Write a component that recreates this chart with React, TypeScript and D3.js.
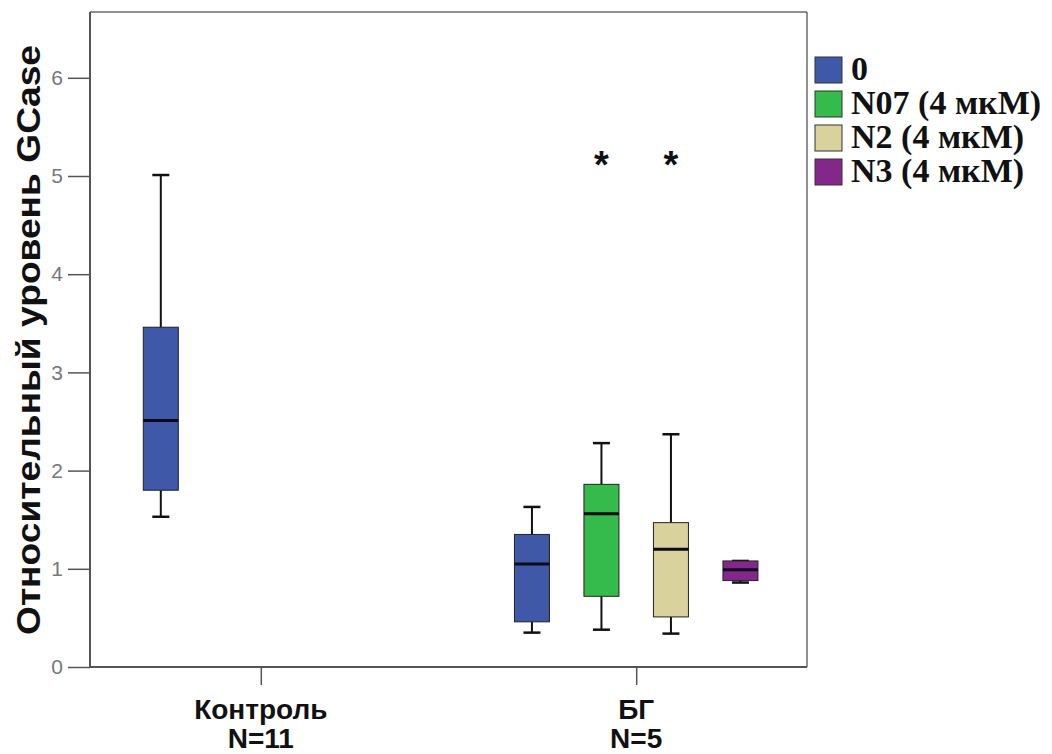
import React, { useRef, useEffect } from "react";
import * as d3 from "d3";

const groups = ["Контроль", "БГ"];
const groupN = ["N=11", "N=5"];
const series = ["0", "N07 (4 мкМ)", "N2 (4 мкМ)", "N3 (4 мкМ)"];
const seriesColors = ["#3f58a8", "#35bb4c", "#d9d29d", "#84278b"];

// one entry per drawn box
const boxGroup = ["Контроль", "БГ", "БГ", "БГ", "БГ"];
const boxSeries = ["0", "0", "N07 (4 мкМ)", "N2 (4 мкМ)", "N3 (4 мкМ)"];
const whiskerLow = [1.53, 0.35, 0.38, 0.34, 0.86];
const q1 = [1.8, 0.46, 0.72, 0.51, 0.88];
const median = [2.51, 1.05, 1.56, 1.2, 0.99];
const q3 = [3.46, 1.35, 1.86, 1.47, 1.08];
const whiskerHigh = [5.01, 1.63, 2.28, 2.37, 1.08];

const starSeries = ["N07 (4 мкМ)", "N2 (4 мкМ)"];
const starValue = [5.17, 5.17];

const yTicks = [0, 1, 2, 3, 4, 5, 6];

const App = () => {
  const ref = useRef<SVGSVGElement>(null);

  useEffect(() => {
    const svg = d3.select(ref.current);
    svg.selectAll("*").remove();

    const left = 90, right = 807, top = 12, bottom = 667;

    const y = d3.scaleLinear().domain([0, 6.67]).range([bottom, top]);
    const x = d3.scalePoint().domain(groups).range([left, right]).padding(0.455);
    const slot = 69.5;
    const boxW = 35;
    // the control group only holds series "0", sitting a bit closer to its tick
    const seriesOffset = (g: string, s: string) =>
      g === "Контроль" ? -100 : (series.indexOf(s) - 1.5) * slot;

    // frame
    svg.append("line").attr("x1", left).attr("x2", right).attr("y1", top).attr("y2", top)
      .attr("stroke", "#222").attr("stroke-width", 1);
    svg.append("line").attr("x1", right).attr("x2", right).attr("y1", top).attr("y2", bottom)
      .attr("stroke", "#222").attr("stroke-width", 1);

    // y axis
    const ya = svg.append("g").attr("transform", `translate(${left},0)`)
      .call(d3.axisLeft(y).tickValues(yTicks).tickSize(22).tickPadding(5).tickFormat(d3.format("d")));
    ya.select(".domain").attr("stroke", "#555").attr("stroke-width", 2)
      .attr("d", `M0,${top}V${bottom}`);
    ya.selectAll(".tick line").attr("stroke", "#555").attr("stroke-width", 1.5);
    ya.selectAll(".tick text").attr("fill", "#777").style("font-family", "Liberation Sans, Arial, sans-serif")
      .style("font-size", "21px");

    // x axis
    const xa = svg.append("g").attr("transform", `translate(0,${bottom})`)
      .call(d3.axisBottom(x).tickSize(18).tickFormat(() => ""));
    xa.select(".domain").attr("stroke", "#555").attr("stroke-width", 2)
      .attr("d", `M${left},0H${right}`);
    xa.selectAll(".tick line").attr("stroke", "#555").attr("stroke-width", 1.5);

    const xl = svg.append("g");
    groups.forEach((g, i) => {
      const t = xl.append("text").attr("x", x(g)!).attr("text-anchor", "middle")
        .style("font-family", "Liberation Sans, Arial, sans-serif").style("font-weight", "bold")
        .style("font-size", "28px").attr("fill", "#111");
      t.append("tspan").attr("x", x(g)!).attr("y", 719).text(g);
      t.append("tspan").attr("x", x(g)!).attr("y", 748).text(groupN[i]);
    });

    // y label
    svg.append("text").attr("transform", `translate(40,340) rotate(-90)`)
      .attr("text-anchor", "middle")
      .attr("textLength", 590).attr("lengthAdjust", "spacingAndGlyphs")
      .style("font-family", "Liberation Sans, Arial, sans-serif").style("font-weight", "bold")
      .style("font-size", "33px").attr("fill", "#111")
      .text("Относительный уровень GCase");

    // boxes
    const boxes = svg.append("g");
    boxGroup.forEach((g, i) => {
      const cx = x(g)! + seriesOffset(g, boxSeries[i]);
      const col = seriesColors[series.indexOf(boxSeries[i])];
      const b = boxes.append("g");
      b.append("line").attr("x1", cx).attr("x2", cx).attr("y1", y(whiskerHigh[i])).attr("y2", y(q3[i]))
        .attr("stroke", "#111").attr("stroke-width", 2);
      b.append("line").attr("x1", cx).attr("x2", cx).attr("y1", y(q1[i])).attr("y2", y(whiskerLow[i]))
        .attr("stroke", "#111").attr("stroke-width", 2);
      [whiskerHigh[i], whiskerLow[i]].forEach(v => {
        b.append("line").attr("x1", cx - 8.5).attr("x2", cx + 8.5).attr("y1", y(v)).attr("y2", y(v))
          .attr("stroke", "#111").attr("stroke-width", 2.5);
      });
      b.append("rect").attr("x", cx - boxW / 2).attr("width", boxW)
        .attr("y", y(q3[i])).attr("height", y(q1[i]) - y(q3[i]))
        .attr("fill", col).attr("stroke", "#222").attr("stroke-width", 1);
      b.append("line").attr("x1", cx - boxW / 2).attr("x2", cx + boxW / 2)
        .attr("y1", y(median[i])).attr("y2", y(median[i]))
        .attr("stroke", "#0a0a1a").attr("stroke-width", 3);
    });

    // stars
    starSeries.forEach((s, i) => {
      svg.append("text").attr("x", x("БГ")! + seriesOffset("БГ", s)).attr("y", y(starValue[i]) + 19)
        .attr("text-anchor", "middle")
        .style("font-family", "Liberation Sans, Arial, sans-serif").style("font-weight", "bold")
        .style("font-size", "38px").attr("fill", "#111").text("*");
    });

    // legend
    const lg = svg.append("g").attr("transform", "translate(815,57)");
    series.forEach((s, i) => {
      lg.append("rect").attr("x", 0).attr("y", i * 34).attr("width", 27).attr("height", 26)
        .attr("fill", seriesColors[i]).attr("stroke", "#333").attr("stroke-width", 1);
      lg.append("text").attr("x", 36).attr("y", i * 34 + 23)
        .style("font-family", "Liberation Serif, Times New Roman, serif").style("font-weight", "bold")
        .style("font-size", "34px").attr("fill", "#111").text(s);
    });
  }, []);

  return (
    <div>
      <svg ref={ref} width={1052} height={754}
        style={{ position: "absolute", left: 0, top: 0, background: "#fff" }}></svg>
    </div>
  );
};

export default App;
